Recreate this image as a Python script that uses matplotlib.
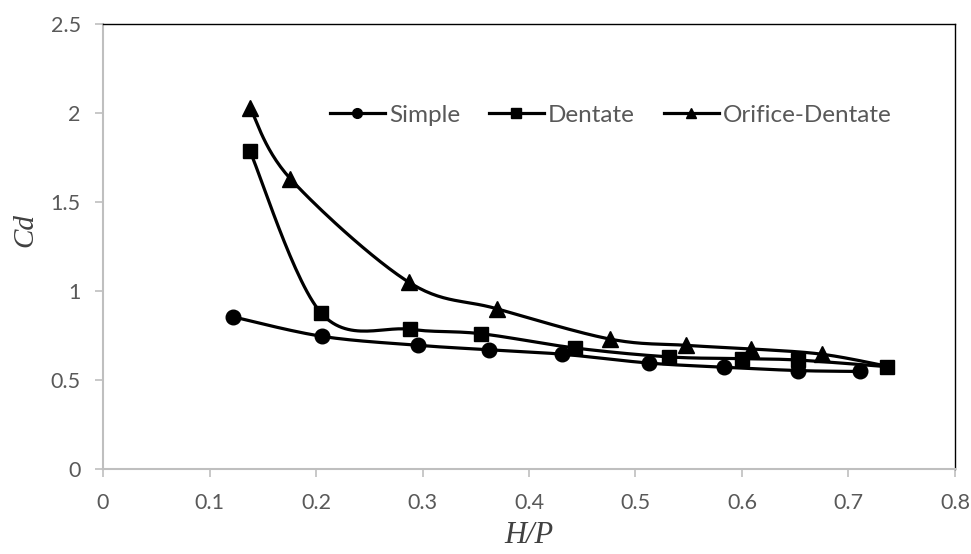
import numpy as np
import matplotlib
matplotlib.use('Agg')
import matplotlib.pyplot as plt
from matplotlib.lines import Line2D

plt.rcParams['font.family'] = ['Lato', 'DejaVu Sans']

# data
simple_x = [0.122, 0.206, 0.296, 0.362, 0.431, 0.513, 0.583, 0.653, 0.711]
simple_y = [0.855, 0.745, 0.695, 0.670, 0.645, 0.595, 0.572, 0.553, 0.548]

dentate_x = [0.138, 0.205, 0.288, 0.355, 0.443, 0.531, 0.600, 0.653, 0.736]
dentate_y = [1.785, 0.875, 0.785, 0.760, 0.680, 0.630, 0.620, 0.612, 0.575]

orifice_x = [0.138, 0.176, 0.287, 0.370, 0.476, 0.547, 0.608, 0.675, 0.736]
orifice_y = [2.030, 1.630, 1.050, 0.900, 0.730, 0.695, 0.675, 0.645, 0.578]

x_ticks = [0, 0.1, 0.2, 0.3, 0.4, 0.5, 0.6, 0.7, 0.8]
y_ticks = [0, 0.5, 1, 1.5, 2, 2.5]


def smooth(x, y, n=30):
    # Catmull-Rom style smoothing like Excel's "smoothed line"
    p = np.column_stack([x, y])
    pts = []
    for i in range(len(p) - 1):
        p0 = p[i - 1] if i > 0 else p[i]
        p1 = p[i]
        p2 = p[i + 1]
        p3 = p[i + 2] if i + 2 < len(p) else p[i + 1]
        c1 = p1 + (p2 - p0) / 6
        c2 = p2 - (p3 - p1) / 6
        t = np.linspace(0, 1, n)[:, None]
        seg = ((1 - t) ** 3) * p1 + 3 * ((1 - t) ** 2) * t * c1 + 3 * (1 - t) * t ** 2 * c2 + t ** 3 * p2
        pts.append(seg)
    pts = np.vstack(pts)
    return pts[:, 0], pts[:, 1]


fig = plt.figure(figsize=(9.71, 5.54), dpi=100)
ax = fig.add_axes([0.1061, 0.1534, 0.8774, 0.8033])

series = [
    ('Simple', simple_x, simple_y, 'o', 10.5, None),
    ('Dentate', dentate_x, dentate_y, 's', 10.5, None),
    ('Orifice-Dentate', orifice_x, orifice_y, '^', 11, list(range(len(orifice_x) - 1))),
]
handles = []
for name, xs, ys, m, ms, every in series:
    sx, sy = smooth(xs, ys)
    ax.plot(sx, sy, color='black', lw=2.3, zorder=2)
    ax.plot(xs, ys, linestyle='none', marker=m, markersize=ms, color='black',
            markevery=every, zorder=3)
    handles.append(Line2D([], [], color='black', lw=2.3, marker=m, markersize=7, label=name))

ax.set_xlim(0, 0.8)
ax.set_ylim(0, 2.5)
ax.set_xticks(x_ticks)
ax.set_xticklabels([f'{v:g}' for v in x_ticks])
ax.set_yticks(y_ticks)
ax.set_yticklabels([f'{v:g}' for v in y_ticks])

for s in ['left', 'bottom']:
    ax.spines[s].set_color('#bfbfbf')
    ax.spines[s].set_linewidth(1.5)
for s in ['top', 'right']:
    ax.spines[s].set_color('black')
    ax.spines[s].set_linewidth(1.0)

ax.tick_params(axis='both', direction='out', length=6, width=1.2, color='#bfbfbf',
               labelcolor='#595959', labelsize=15.5)
ax.tick_params(axis='x', pad=11)
ax.tick_params(axis='y', pad=10)

ax.set_xlabel('H/P', fontsize=22, fontstyle='italic', family='Liberation Serif',
              color='#404040', labelpad=6)
ax.set_ylabel('Cd', fontsize=21, fontstyle='italic', family='Liberation Serif',
              color='#404040')
ax.yaxis.set_label_coords(-0.076, 0.537)

ax.legend(handles=handles, loc='center', bbox_to_anchor=(0.596, 0.795), ncol=3,
          frameon=False, fontsize=17.5, handlelength=2.25, columnspacing=1.2,
          handletextpad=0.17, labelcolor='#595959')

fig.savefig('out.png', dpi=100)
